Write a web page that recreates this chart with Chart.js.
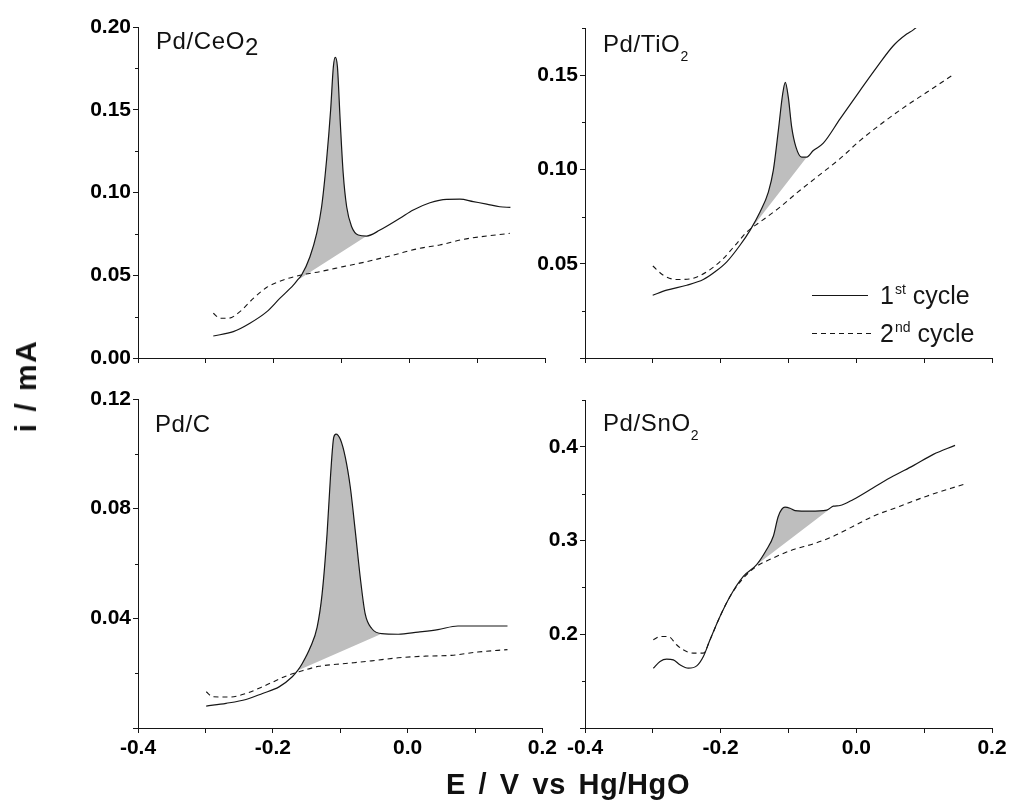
<!DOCTYPE html>
<html>
<head>
<meta charset="utf-8">
<script src="https://cdn.jsdelivr.net/npm/chart.js@4.4.0/dist/chart.umd.min.js"></script>
<style>
  body { margin: 0; background: #fff; width: 1010px; height: 801px; position: relative; overflow: hidden;
         font-family: "Liberation Sans", Arial, sans-serif; color: #111; }
  canvas { position: absolute; }
  .tag { position: absolute; font-size: 24px; line-height: 1; white-space: nowrap; letter-spacing: 0.6px; }
  .tag .s { font-size: 14px; position: relative; top: 9px; }
  .tag .big { position: relative; top: 6px; }
  #ytitle { position: absolute; left: 26px; top: 386px; font-size: 30px; font-weight: bold; line-height: 1;
            white-space: nowrap; letter-spacing: 1.5px; word-spacing: 1px; transform: translate(-50%, -50%) rotate(-90deg); }
  #xtitle { position: absolute; left: 568px; top: 770px; font-size: 29px; font-weight: bold; line-height: 1;
            white-space: nowrap; letter-spacing: 0.6px; word-spacing: 4px; transform: translateX(-50%); }
</style>
</head>
<body>
<canvas id="c1" width="520" height="380" style="left:40px;top:0px"></canvas>
<canvas id="c2" width="510" height="380" style="left:500px;top:0px"></canvas>
<canvas id="c3" width="520" height="400" style="left:40px;top:380px"></canvas>
<canvas id="c4" width="510" height="400" style="left:500px;top:380px"></canvas>

<div class="tag" style="left:156px;top:29px">Pd/CeO<span class="big">2</span></div>
<div class="tag" style="left:603px;top:32px">Pd/TiO<span class="s">2</span></div>
<div class="tag" style="left:155px;top:412px">Pd/C</div>
<div class="tag" style="left:603px;top:411px">Pd/SnO<span class="s">2</span></div>
<div id="ytitle">i / mA</div>
<div id="xtitle">E / V vs Hg/HgO</div>

<script>
// Pd/CeO2
const E_CEO2_1 = [-0.289, -0.2595, -0.235, -0.210, -0.191, -0.171, -0.165, -0.159, -0.1465, -0.1366, -0.1293, -0.122, -0.116, -0.112, -0.1092, -0.106, -0.102, -0.0975, -0.0924, -0.085, -0.0753, -0.063, -0.0433, -0.0139, 0.0058, 0.0304, 0.055, 0.0746, 0.0942, 0.114, 0.1335, 0.149];
const I_CEO2_1 = [0.0133, 0.0159, 0.021, 0.028, 0.036, 0.044, 0.047, 0.050, 0.0612, 0.0753, 0.0914, 0.1196, 0.150, 0.176, 0.1817, 0.176, 0.1438, 0.1116, 0.0914, 0.0793, 0.0743, 0.0737, 0.0773, 0.0844, 0.0894, 0.0938, 0.0959, 0.096, 0.0945, 0.093, 0.0914, 0.091];
const E_CEO2_2 = [-0.289, -0.279, -0.267, -0.2497, -0.230, -0.210, -0.1858, -0.161, -0.1318, -0.0975, -0.063, -0.0237, 0.0156, 0.045, 0.0795, 0.114, 0.148];
const I_CEO2_2 = [0.027, 0.024, 0.024, 0.028, 0.036, 0.0427, 0.0471, 0.050, 0.0522, 0.0552, 0.0582, 0.0622, 0.0663, 0.0683, 0.0717, 0.0737, 0.0753];
const PEAK_CEO2 = [-0.165, -0.063];
const Y_TICKS_CEO2 = [0, 0.05, 0.10, 0.15, 0.20];

// Pd/TiO2
const E_TIO2_1 = [-0.3002, -0.2796, -0.250, -0.2256, -0.2083, -0.191, -0.1715, -0.1567, -0.142, -0.1297, -0.1224, -0.115, -0.1086, -0.1047, -0.1003, -0.0953, -0.089, -0.0806, -0.0732, -0.0634, -0.0487, -0.024, 0.0054, 0.030, 0.0545, 0.0742, 0.084, 0.10, 0.12];
const I_TIO2_1 = [0.0333, 0.036, 0.0386, 0.0416, 0.0457, 0.051, 0.0598, 0.0677, 0.0774, 0.088, 0.0995, 0.1206, 0.140, 0.1462, 0.1383, 0.1224, 0.1118, 0.1065, 0.1065, 0.110, 0.1139, 0.1268, 0.1418, 0.1541, 0.1656, 0.1718, 0.174, 0.179, 0.185];
const E_TIO2_2 = [-0.300, -0.2845, -0.265, -0.2427, -0.2206, -0.1985, -0.1764, -0.1616, -0.142, -0.1125, -0.0879, -0.0584, -0.0241, 0.0054, 0.0398, 0.0743, 0.1038, 0.143];
const I_TIO2_2 = [0.0488, 0.0439, 0.0416, 0.0421, 0.0457, 0.0519, 0.0607, 0.0668, 0.0721, 0.080, 0.0875, 0.0959, 0.1057, 0.1153, 0.125, 0.1339, 0.1409, 0.1503];
const PEAK_TIO2 = [-0.1567, -0.0732];
const Y_TICKS_TIO2 = [0.05, 0.10, 0.15];

// Pd/C
const E_C_1 = [-0.2988, -0.2693, -0.2398, -0.2152, -0.1907, -0.1711, -0.163, -0.1563, -0.144, -0.1342, -0.1268, -0.1195, -0.1145, -0.1096, -0.1062, -0.0998, -0.0924, -0.085, -0.0777, -0.0703, -0.063, -0.0532, -0.0385, -0.0139, 0.0156, 0.045, 0.0746, 0.104, 0.1482];
const I_C_1 = [0.008, 0.009, 0.0104, 0.0126, 0.015, 0.0187, 0.021, 0.0235, 0.0296, 0.0368, 0.049, 0.0708, 0.0914, 0.106, 0.1072, 0.1053, 0.0987, 0.0878, 0.072, 0.055, 0.0417, 0.0363, 0.0344, 0.0342, 0.035, 0.0359, 0.0372, 0.0372, 0.0372];
const E_C_2 = [-0.2988, -0.289, -0.2644, -0.2398, -0.2103, -0.1808, -0.1612, -0.1317, -0.0924, -0.0532, -0.0139, 0.0255, 0.0648, 0.104, 0.1482];
const I_C_2 = [0.0132, 0.0114, 0.0113, 0.0126, 0.0156, 0.0189, 0.0205, 0.0225, 0.0235, 0.0245, 0.0256, 0.0262, 0.0265, 0.0277, 0.0286];
const PEAK_C = [-0.163, -0.0385];
const Y_TICKS_C = [0.04, 0.08, 0.12];

// Pd/SnO2
const E_SNO2_1 = [-0.2993, -0.2894, -0.2796, -0.2698, -0.26, -0.2477, -0.2353, -0.2255, -0.2157, -0.201, -0.1862, -0.1666, -0.1469, -0.1322, -0.1224, -0.115, -0.1052, -0.0978, -0.0904, -0.0683, -0.0437, -0.0339, -0.0241, -0.0044, 0.025, 0.0545, 0.084, 0.1135, 0.1455];
const I_SNO2_1 = [0.1638, 0.171, 0.1735, 0.1727, 0.1674, 0.1638, 0.1663, 0.1763, 0.1941, 0.219, 0.2404, 0.2618, 0.2743, 0.2904, 0.3046, 0.326, 0.3356, 0.3345, 0.332, 0.3314, 0.3325, 0.3367, 0.3374, 0.3439, 0.3564, 0.3688, 0.380, 0.392, 0.4016];
const E_SNO2_2 = [-0.2993, -0.2894, -0.2772, -0.265, -0.2552, -0.2404, -0.2256, -0.2157, -0.201, -0.1862, -0.1666, -0.1469, -0.1224, -0.0929, -0.0634, -0.0339, -0.0044, 0.025, 0.0644, 0.1038, 0.1578];
const I_SNO2_2 = [0.1941, 0.1977, 0.1977, 0.1888, 0.1834, 0.1799, 0.1799, 0.1941, 0.219, 0.2404, 0.260, 0.2725, 0.2815, 0.2904, 0.2965, 0.3046, 0.3153, 0.326, 0.3367, 0.3474, 0.3599];
const PEAK_SNO2 = [-0.1469, -0.0339];
const Y_TICKS_SNO2 = [0.2, 0.3, 0.4];

const X_TICKS = [-0.4, -0.2, 0.0, 0.2];
const LEGEND = [['1', 'st', ' cycle'], ['2', 'nd', ' cycle']];

const INK = '#161616';
const SHADE = '#bebebe';
const FONT = '"Liberation Sans", Arial, sans-serif';

const pts = (es, is) => es.map((e, k) => ({ x: e, y: is[k] }));
const pick = (list, v) => list.find(t => Math.abs(t - v) < 1e-6);

// short minor ticks half way between the labelled y ticks
const minorTicks = {
  id: 'minorTicks',
  afterDraw(chart) {
    const y = chart.scales.y, ctx = chart.ctx, step = y.options.ticks.stepSize;
    ctx.save();
    ctx.strokeStyle = INK;
    ctx.lineWidth = 1;
    for (let v = y.min + step / 2; v <= y.max + 1e-9; v += step) {
      const py = Math.round(y.getPixelForValue(v)) + 0.5;
      ctx.beginPath(); ctx.moveTo(y.right - 3, py); ctx.lineTo(y.right, py); ctx.stroke();
    }
    ctx.restore();
  }
};

// legend in the Pd/TiO2 panel
const cycleLegend = {
  id: 'cycleLegend',
  afterDraw(chart) {
    const ctx = chart.ctx;
    const rows = [{ y: 295, x2: 368, dash: [] }, { y: 333, x2: 373, dash: [5, 4] }];
    ctx.save();
    rows.forEach((r, k) => {
      ctx.strokeStyle = INK; ctx.lineWidth = 1.2; ctx.setLineDash(r.dash);
      ctx.beginPath(); ctx.moveTo(312, r.y + 0.5); ctx.lineTo(r.x2, r.y + 0.5); ctx.stroke();
      const [n, sup, rest] = LEGEND[k];
      const base = r.y + 9;
      let x = 380;
      ctx.fillStyle = INK; ctx.textBaseline = 'alphabetic'; ctx.textAlign = 'left';
      ctx.font = '25px ' + FONT;
      ctx.fillText(n, x, base); x += ctx.measureText(n).width + 1;
      ctx.font = '14px ' + FONT;
      ctx.fillText(sup, x, base - 10); x += ctx.measureText(sup).width;
      ctx.font = '25px ' + FONT;
      ctx.fillText(rest, x, base);
    });
    ctx.restore();
  }
};

function makePanel(p) {
  const solid = pts(p.e1, p.i1);
  const peak = solid.filter(q => q.x >= p.peak[0] - 1e-9 && q.x <= p.peak[1] + 1e-9);
  const base = [{ ...peak[0] }, { ...peak[peak.length - 1] }];
  const line = { pointRadius: 0, borderColor: INK, cubicInterpolationMode: 'monotone', fill: false };
  new Chart(document.getElementById(p.id), {
    type: 'line',
    data: {
      datasets: [
        { ...line, data: solid, borderWidth: 1.2 },
        { ...line, data: pts(p.e2, p.i2), borderWidth: 1.1, borderDash: [5, 4] },
        { ...line, data: peak, borderWidth: 0, backgroundColor: SHADE, fill: '+1' },
        { ...line, data: base, borderWidth: 0, cubicInterpolationMode: 'default', tension: 0 }
      ]
    },
    options: {
      responsive: false,
      animation: false,
      events: [],
      layout: { padding: { top: p.top, right: p.right, left: 0, bottom: 0 } },
      plugins: { legend: { display: false }, tooltip: { enabled: false } },
      scales: {
        x: {
          type: 'linear', min: -0.4, max: 0.2,
          afterFit: s => { s.height = p.xH; },
          border: { color: INK, width: 1 },
          grid: { drawOnChartArea: false, tickLength: 5, color: INK, lineWidth: 1 },
          ticks: {
            display: p.xLabels, stepSize: 0.1, autoSkip: false, maxRotation: 0, padding: 3,
            color: '#000', font: { family: FONT, size: 21, weight: 'bold' },
            callback: v => { const t = pick(X_TICKS, v); return t === undefined ? '' : t.toFixed(1); }
          }
        },
        y: {
          min: p.yMin, max: p.yMax,
          afterFit: s => { s.width = p.yW; },
          border: { color: INK, width: 1 },
          grid: { drawOnChartArea: false, tickLength: 5, color: INK, lineWidth: 1 },
          ticks: {
            stepSize: p.yStep, includeBounds: false, autoSkip: false, padding: 2,
            color: '#000', font: { family: FONT, size: 21, weight: 'bold' },
            callback: v => { const t = pick(p.yTicks, v); return t === undefined ? '' : t.toFixed(p.dec); }
          }
        }
      }
    },
    plugins: p.legend ? [minorTicks, cycleLegend] : [minorTicks]
  });
}

makePanel({ id: 'c1', e1: E_CEO2_1, i1: I_CEO2_1, e2: E_CEO2_2, i2: I_CEO2_2, peak: PEAK_CEO2,
  yMin: 0, yMax: 0.2, yStep: 0.05, yTicks: Y_TICKS_CEO2, dec: 2, xLabels: false,
  top: 27, right: 15, yW: 98, xH: 22 });
makePanel({ id: 'c2', e1: E_TIO2_1, i1: I_TIO2_1, e2: E_TIO2_2, i2: I_TIO2_2, peak: PEAK_TIO2,
  yMin: 0, yMax: 0.175, yStep: 0.05, yTicks: Y_TICKS_TIO2, dec: 2, xLabels: false,
  top: 28, right: 18, yW: 85, xH: 22, legend: true });
makePanel({ id: 'c3', e1: E_C_1, i1: I_C_1, e2: E_C_2, i2: I_C_2, peak: PEAK_C,
  yMin: 0, yMax: 0.12, yStep: 0.04, yTicks: Y_TICKS_C, dec: 2, xLabels: true,
  top: 19, right: 15, yW: 98, xH: 52 });
makePanel({ id: 'c4', e1: E_SNO2_1, i1: I_SNO2_1, e2: E_SNO2_2, i2: I_SNO2_2, peak: PEAK_SNO2,
  yMin: 0.1, yMax: 0.45, yStep: 0.1, yTicks: Y_TICKS_SNO2, dec: 1, xLabels: true,
  top: 20, right: 18, yW: 85, xH: 52 });
</script>
</body>
</html>
